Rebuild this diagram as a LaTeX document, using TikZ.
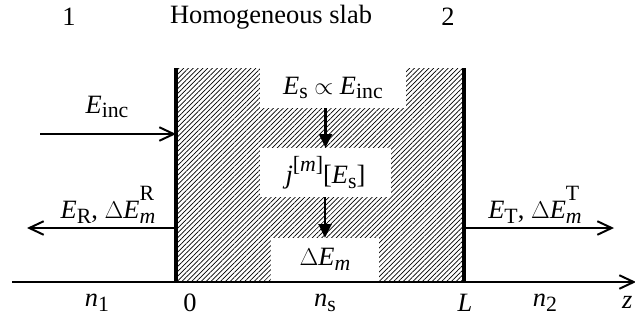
\documentclass[tikz,border=0pt]{standalone}
\usepackage{fontspec}
\setmainfont{Liberation Serif}
\usepackage{tikz}
\usetikzlibrary{arrows.meta,patterns.meta}
\newcommand{\lo}[1]{\raisebox{-0.4ex}{\fontsize{15.5}{16}\selectfont #1}}
\newcommand{\hi}[1]{\raisebox{1.45ex}{\fontsize{15.5}{16}\selectfont #1}}
\newcommand{\lohi}[2]{\makebox[0pt][l]{\hi{#2}}\lo{#1}}
\tikzset{
  lbl/.style={font=\fontsize{18.8}{22}\selectfont, inner sep=1pt},
  kasten/.style={lbl, fill=white, inner sep=0pt},
  wand/.style={line width=2.8pt},
  pfeil/.style={-{Straight Barb[length=3.6mm,width=3.4mm,line width=1.4pt]}, line width=1.4pt},
  pfeilv/.style={-{Triangle[length=3.4mm,width=3.2mm]}, line width=2pt},
  schraff/.style={pattern={Lines[angle=45,distance=0.85mm,line width=0.5pt]}},
}

\begin{document}
\begin{tikzpicture}[x=0.025cm, y=-0.025cm]
  \useasboundingbox (0,0) rectangle (635,324);
  % slab
  \fill[schraff] (176,68) rectangle (464,282);
  \node[kasten, minimum width=3.65cm, minimum height=1cm] (es) at (333,88)
    {\textit{E}\lo{s} $\propto$ \textit{E}\lo{inc}};
  \node[kasten, minimum width=3.275cm, minimum height=1.225cm] (jm) at (325.5,172.5)
    {\textit{j}\raisebox{1ex}{\fontsize{15.5}{16}\selectfont[\textit{m}]}[\textit{E}\lo{s}]};
  \node[kasten, minimum width=2.7cm, minimum height=1.075cm] (de) at (325,259.5)
    {$\Delta$\textit{E}\lo{\textit{m}}};
  \draw[pfeilv] (es.south -| jm) -- (jm.north);
  \draw[pfeilv] (jm.south -| de) -- (de.north);
  \coordinate (w0o) at (176,68); \coordinate (w0u) at (176,282);
  \coordinate (wLo) at (464,68); \coordinate (wLu) at (464,282);
  \draw[wand] (w0o) -- (w0u);
  \draw[wand] (wLo) -- (wLu);
  % axis
  \coordinate (za) at (12,282); \coordinate (ze) at (636,282);
  \draw[pfeil] (za) -- (ze);
  % waves
  \coordinate (ein) at (40,134);
  \draw[pfeil] (ein) -- (ein -| w0o);
  \coordinate (er) at (27,228);
  \draw[pfeil] (er -| w0o) -- (er);
  \coordinate (et) at (614,228);
  \draw[pfeil] (et -| wLo) -- (et);
  % labels
  \node[lbl] (t1) at (69,17) {1};
  \node[lbl] (tt) at (271,17) {Homogeneous slab};
  \node[lbl] (t2) at (448,17) {2};
  \node[lbl] (linc) at (107,107) {\textit{E}\lo{inc}};
  \node[lbl] (lr) at (108,205) {\textit{E}\lo{R}, $\Delta$\textit{E}\lohi{\textit{m}}{R}};
  \node[lbl] (lt) at (535,205) {\textit{E}\lo{T}, $\Delta$\textit{E}\lohi{\textit{m}}{T}};
  \node[lbl] (n1) at (97,303) {\textit{n}\lo{1}};
  \node[lbl] (l0) at (190,303) {0};
  \node[lbl] (ns) at (325,303) {\textit{n}\lo{s}};
  \node[lbl] (lL) at (465,303) {\textit{L}};
  \node[lbl] (n2) at (545,303) {\textit{n}\lo{2}};
  \node[lbl, anchor=east] (lz) at (634,302) {\textit{z}};
\end{tikzpicture}
\end{document}
